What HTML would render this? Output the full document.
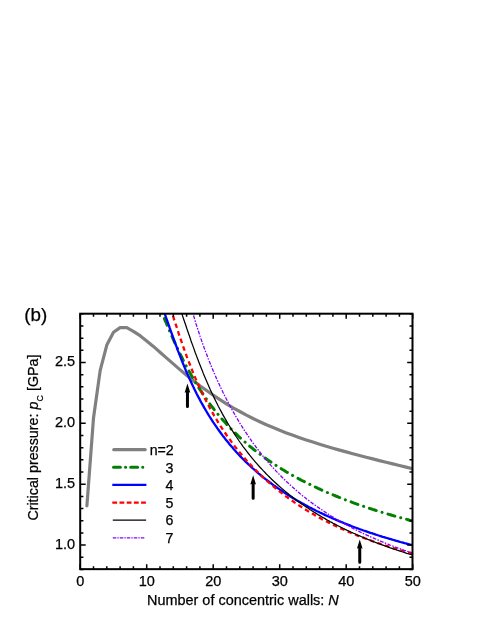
<!DOCTYPE html>
<html><head><meta charset="utf-8"><title>chart</title>
<style>
html,body{margin:0;padding:0;background:#fff;}
body{width:491px;height:635px;overflow:hidden;font-family:"Liberation Sans",sans-serif;}
svg{display:block;will-change:transform;opacity:0.9999;}
text{font-family:"Liberation Sans",sans-serif;fill:#000;stroke:#000;stroke-width:0.25px;}
</style></head><body>
<svg width="491" height="635" viewBox="0 0 491 635">
<rect width="491" height="635" fill="#fff"/>
<defs><clipPath id="c"><rect x="80.2" y="313.7" width="332.5" height="255.2"/></clipPath></defs>
<g clip-path="url(#c)" fill="none" stroke-linejoin="round">
<path d="M86.9,505.9 L93.5,418.0 L100.2,370.4 L106.8,345.1 L113.5,332.3 L120.1,327.6 L126.8,327.6 L133.4,331.3 L140.1,335.7 L146.7,340.9 L153.4,346.4 L160.0,352.2 L166.7,358.1 L173.3,363.9 L179.9,369.6 L186.6,375.2 L193.2,380.5 L199.9,385.7 L206.6,390.5 L213.2,395.2 L219.9,399.6 L226.5,403.8 L233.1,407.8 L239.8,411.5 L246.4,415.1 L253.1,418.5 L259.8,421.7 L266.4,424.7 L273.1,427.5 L279.7,430.3 L286.4,432.9 L293.0,435.3 L299.6,437.7 L306.3,440.0 L312.9,442.1 L319.6,444.2 L326.2,446.3 L332.9,448.2 L339.6,450.1 L346.2,451.9 L352.8,453.7 L359.5,455.5 L366.1,457.2 L372.8,458.9 L379.4,460.6 L386.1,462.2 L392.8,463.9 L399.4,465.5 L406.1,467.1 L412.7,468.8" stroke="#808080" stroke-width="3.2" stroke-linecap="round"/>
<path d="M156.9,300.6 L158.3,303.8 L159.6,307.1 L161.0,310.4 L162.4,313.7 L163.7,317.0 L165.1,320.3 L166.5,323.5 L167.8,326.8 L169.2,330.0 L170.5,333.1 L171.9,336.2 L173.3,339.3 L174.6,342.3 L176.0,345.3 L177.4,348.3 L178.7,351.1 L180.1,354.0 L181.5,356.7 L182.8,359.5 L184.2,362.1 L185.6,364.8 L186.9,367.3 L188.3,369.9 L189.7,372.3 L191.0,374.8 L192.4,377.2 L193.8,379.5 L195.1,381.8 L196.5,384.0 L197.9,386.2 L199.2,388.4 L200.6,390.5 L202.0,392.6 L203.3,394.6 L204.7,396.6 L206.1,398.6 L207.4,400.5 L208.8,402.4 L210.1,404.3 L211.5,406.1 L212.9,407.9 L214.2,409.6 L215.6,411.3 L217.0,413.0 L218.3,414.7 L219.7,416.3 L221.1,417.9 L222.4,419.5 L223.8,421.1 L225.2,422.6 L226.5,424.1 L227.9,425.5 L229.3,427.0 L230.6,428.4 L232.0,429.8 L233.4,431.2 L234.7,432.6 L236.1,433.9 L237.5,435.2 L238.8,436.5 L240.2,437.8 L241.6,439.0 L242.9,440.3 L244.3,441.5 L245.7,442.7 L247.0,443.9 L248.4,445.0 L249.7,446.2 L251.1,447.3 L252.5,448.4 L253.8,449.5 L255.2,450.6 L256.6,451.7 L257.9,452.7 L259.3,453.8 L260.7,454.8 L262.0,455.8 L263.4,456.8 L264.8,457.8 L266.1,458.8 L267.5,459.7 L268.9,460.7 L270.2,461.6 L271.6,462.5 L273.0,463.4 L274.3,464.3 L275.7,465.2 L277.1,466.1 L278.4,467.0 L279.8,467.8 L281.2,468.7 L282.5,469.5 L283.9,470.3 L285.3,471.2 L286.6,472.0 L288.0,472.8 L289.3,473.6 L290.7,474.3 L292.1,475.1 L293.4,475.9 L294.8,476.6 L296.2,477.4 L297.5,478.1 L298.9,478.8 L300.3,479.6 L301.6,480.3 L303.0,481.0 L304.4,481.7 L305.7,482.4 L307.1,483.1 L308.5,483.7 L309.8,484.4 L311.2,485.1 L312.6,485.7 L313.9,486.4 L315.3,487.0 L316.7,487.7 L318.0,488.3 L319.4,488.9 L320.8,489.6 L322.1,490.2 L323.5,490.8 L324.9,491.4 L326.2,492.0 L327.6,492.6 L328.9,493.2 L330.3,493.7 L331.7,494.3 L333.0,494.9 L334.4,495.4 L335.8,496.0 L337.1,496.5 L338.5,497.1 L339.9,497.6 L341.2,498.2 L342.6,498.7 L344.0,499.2 L345.3,499.8 L346.7,500.3 L348.1,500.8 L349.4,501.3 L350.8,501.8 L352.2,502.3 L353.5,502.8 L354.9,503.3 L356.3,503.8 L357.6,504.3 L359.0,504.8 L360.4,505.2 L361.7,505.7 L363.1,506.2 L364.5,506.7 L365.8,507.1 L367.2,507.6 L368.5,508.0 L369.9,508.5 L371.3,508.9 L372.6,509.4 L374.0,509.8 L375.4,510.2 L376.7,510.7 L378.1,511.1 L379.5,511.5 L380.8,512.0 L382.2,512.4 L383.6,512.8 L384.9,513.2 L386.3,513.6 L387.7,514.0 L389.0,514.4 L390.4,514.8 L391.8,515.2 L393.1,515.6 L394.5,516.0 L395.9,516.4 L397.2,516.8 L398.6,517.2 L400.0,517.6 L401.3,517.9 L402.7,518.3 L404.1,518.7 L405.4,519.1 L406.8,519.4 L408.1,519.8 L409.5,520.2 L410.9,520.5 L412.2,520.9 L412.7,521.0" stroke="#008000" stroke-width="3" stroke-dasharray="7.2 6.05 0.1 6.05" stroke-linecap="round"/>
<path d="M160.1,301.3 L161.4,304.8 L162.8,308.4 L164.2,312.2 L165.5,316.0 L166.9,319.9 L168.3,323.8 L169.6,327.7 L171.0,331.6 L172.4,335.4 L173.7,339.2 L175.1,343.0 L176.5,346.7 L177.8,350.3 L179.2,353.9 L180.6,357.4 L181.9,360.9 L183.3,364.3 L184.7,367.6 L186.0,370.8 L187.4,374.0 L188.8,377.1 L190.1,380.1 L191.5,383.0 L192.9,385.9 L194.2,388.8 L195.6,391.5 L196.9,394.2 L198.3,396.9 L199.7,399.4 L201.0,402.0 L202.4,404.4 L203.8,406.9 L205.1,409.2 L206.5,411.5 L207.9,413.8 L209.2,416.0 L210.6,418.2 L212.0,420.3 L213.3,422.4 L214.7,424.4 L216.1,426.4 L217.4,428.4 L218.8,430.3 L220.2,432.2 L221.5,434.0 L222.9,435.9 L224.3,437.6 L225.6,439.4 L227.0,441.1 L228.4,442.8 L229.7,444.4 L231.1,446.0 L232.5,447.6 L233.8,449.2 L235.2,450.7 L236.5,452.2 L237.9,453.7 L239.3,455.2 L240.6,456.6 L242.0,458.0 L243.4,459.4 L244.7,460.8 L246.1,462.1 L247.5,463.4 L248.8,464.7 L250.2,466.0 L251.6,467.3 L252.9,468.5 L254.3,469.7 L255.7,470.9 L257.0,472.1 L258.4,473.3 L259.8,474.4 L261.1,475.6 L262.5,476.7 L263.9,477.8 L265.2,478.9 L266.6,479.9 L268.0,481.0 L269.3,482.0 L270.7,483.0 L272.1,484.1 L273.4,485.1 L274.8,486.0 L276.1,487.0 L277.5,488.0 L278.9,488.9 L280.2,489.8 L281.6,490.8 L283.0,491.7 L284.3,492.6 L285.7,493.5 L287.1,494.3 L288.4,495.2 L289.8,496.1 L291.2,496.9 L292.5,497.7 L293.9,498.6 L295.3,499.4 L296.6,500.2 L298.0,501.0 L299.4,501.8 L300.7,502.5 L302.1,503.3 L303.5,504.0 L304.8,504.8 L306.2,505.5 L307.6,506.3 L308.9,507.0 L310.3,507.7 L311.7,508.4 L313.0,509.1 L314.4,509.8 L315.7,510.5 L317.1,511.2 L318.5,511.8 L319.8,512.5 L321.2,513.1 L322.6,513.8 L323.9,514.4 L325.3,515.1 L326.7,515.7 L328.0,516.3 L329.4,516.9 L330.8,517.5 L332.1,518.1 L333.5,518.7 L334.9,519.3 L336.2,519.9 L337.6,520.5 L339.0,521.1 L340.3,521.6 L341.7,522.2 L343.1,522.7 L344.4,523.3 L345.8,523.8 L347.2,524.4 L348.5,524.9 L349.9,525.4 L351.3,526.0 L352.6,526.5 L354.0,527.0 L355.3,527.5 L356.7,528.0 L358.1,528.5 L359.4,529.0 L360.8,529.5 L362.2,530.0 L363.5,530.5 L364.9,530.9 L366.3,531.4 L367.6,531.9 L369.0,532.3 L370.4,532.8 L371.7,533.2 L373.1,533.7 L374.5,534.1 L375.8,534.6 L377.2,535.0 L378.6,535.5 L379.9,535.9 L381.3,536.3 L382.7,536.8 L384.0,537.2 L385.4,537.6 L386.8,538.0 L388.1,538.4 L389.5,538.8 L390.9,539.2 L392.2,539.6 L393.6,540.0 L394.9,540.4 L396.3,540.8 L397.7,541.2 L399.0,541.6 L400.4,542.0 L401.8,542.3 L403.1,542.7 L404.5,543.1 L405.9,543.4 L407.2,543.8 L408.6,544.2 L410.0,544.5 L411.3,544.9 L412.7,545.2" stroke="#0000ff" stroke-width="2.3"/>
<path d="M167.8,300.8 L169.2,304.6 L170.5,308.6 L171.9,312.7 L173.3,316.9 L174.6,321.1 L176.0,325.2 L177.4,329.4 L178.7,333.5 L180.1,337.6 L181.5,341.6 L182.8,345.5 L184.2,349.4 L185.6,353.1 L186.9,356.9 L188.3,360.5 L189.7,364.0 L191.0,367.5 L192.4,370.9 L193.8,374.2 L195.1,377.4 L196.5,380.6 L197.9,383.7 L199.2,386.7 L200.6,389.7 L202.0,392.5 L203.3,395.4 L204.7,398.1 L206.1,400.8 L207.4,403.4 L208.8,406.0 L210.1,408.5 L211.5,411.0 L212.9,413.4 L214.2,415.8 L215.6,418.1 L217.0,420.3 L218.3,422.6 L219.7,424.7 L221.1,426.9 L222.4,429.0 L223.8,431.0 L225.2,433.0 L226.5,435.0 L227.9,437.0 L229.3,438.9 L230.6,440.7 L232.0,442.6 L233.4,444.4 L234.7,446.2 L236.1,447.9 L237.5,449.6 L238.8,451.3 L240.2,453.0 L241.6,454.6 L242.9,456.2 L244.3,457.8 L245.7,459.4 L247.0,460.9 L248.4,462.4 L249.7,463.9 L251.1,465.3 L252.5,466.8 L253.8,468.2 L255.2,469.6 L256.6,471.0 L257.9,472.3 L259.3,473.7 L260.7,475.0 L262.0,476.3 L263.4,477.6 L264.8,478.8 L266.1,480.1 L267.5,481.3 L268.9,482.5 L270.2,483.7 L271.6,484.9 L273.0,486.0 L274.3,487.2 L275.7,488.3 L277.1,489.4 L278.4,490.5 L279.8,491.6 L281.2,492.7 L282.5,493.7 L283.9,494.8 L285.3,495.8 L286.6,496.8 L288.0,497.8 L289.3,498.8 L290.7,499.8 L292.1,500.7 L293.4,501.7 L294.8,502.6 L296.2,503.5 L297.5,504.5 L298.9,505.4 L300.3,506.3 L301.6,507.1 L303.0,508.0 L304.4,508.9 L305.7,509.7 L307.1,510.6 L308.5,511.4 L309.8,512.2 L311.2,513.0 L312.6,513.8 L313.9,514.6 L315.3,515.4 L316.7,516.2 L318.0,516.9 L319.4,517.7 L320.8,518.4 L322.1,519.2 L323.5,519.9 L324.9,520.6 L326.2,521.3 L327.6,522.0 L328.9,522.7 L330.3,523.4 L331.7,524.1 L333.0,524.7 L334.4,525.4 L335.8,526.0 L337.1,526.7 L338.5,527.3 L339.9,528.0 L341.2,528.6 L342.6,529.2 L344.0,529.8 L345.3,530.4 L346.7,531.0 L348.1,531.6 L349.4,532.2 L350.8,532.8 L352.2,533.3 L353.5,533.9 L354.9,534.5 L356.3,535.0 L357.6,535.6 L359.0,536.1 L360.4,536.6 L361.7,537.2 L363.1,537.7 L364.5,538.2 L365.8,538.7 L367.2,539.2 L368.5,539.7 L369.9,540.2 L371.3,540.7 L372.6,541.2 L374.0,541.7 L375.4,542.1 L376.7,542.6 L378.1,543.1 L379.5,543.5 L380.8,544.0 L382.2,544.4 L383.6,544.9 L384.9,545.3 L386.3,545.8 L387.7,546.2 L389.0,546.6 L390.4,547.0 L391.8,547.5 L393.1,547.9 L394.5,548.3 L395.9,548.7 L397.2,549.1 L398.6,549.5 L400.0,549.9 L401.3,550.3 L402.7,550.6 L404.1,551.0 L405.4,551.4 L406.8,551.8 L408.1,552.1 L409.5,552.5 L410.9,552.9 L412.2,553.2 L412.7,553.4" stroke="#ff0000" stroke-width="2.3" stroke-dasharray="4.6 3.4"/>
<path d="M177.4,300.5 L178.7,304.4 L180.1,308.5 L181.5,312.5 L182.8,316.6 L184.2,320.7 L185.6,324.7 L186.9,328.8 L188.3,332.8 L189.7,336.8 L191.0,340.7 L192.4,344.6 L193.8,348.4 L195.1,352.2 L196.5,355.9 L197.9,359.5 L199.2,363.1 L200.6,366.6 L202.0,370.0 L203.3,373.4 L204.7,376.7 L206.1,379.9 L207.4,383.1 L208.8,386.2 L210.1,389.2 L211.5,392.2 L212.9,395.1 L214.2,397.9 L215.6,400.7 L217.0,403.5 L218.3,406.2 L219.7,408.8 L221.1,411.4 L222.4,413.9 L223.8,416.4 L225.2,418.8 L226.5,421.1 L227.9,423.5 L229.3,425.8 L230.6,428.0 L232.0,430.2 L233.4,432.3 L234.7,434.4 L236.1,436.5 L237.5,438.5 L238.8,440.5 L240.2,442.5 L241.6,444.4 L242.9,446.3 L244.3,448.1 L245.7,449.9 L247.0,451.7 L248.4,453.5 L249.7,455.2 L251.1,456.9 L252.5,458.6 L253.8,460.2 L255.2,461.8 L256.6,463.4 L257.9,464.9 L259.3,466.5 L260.7,468.0 L262.0,469.4 L263.4,470.9 L264.8,472.3 L266.1,473.7 L267.5,475.1 L268.9,476.5 L270.2,477.8 L271.6,479.2 L273.0,480.5 L274.3,481.7 L275.7,483.0 L277.1,484.3 L278.4,485.5 L279.8,486.7 L281.2,487.9 L282.5,489.1 L283.9,490.2 L285.3,491.4 L286.6,492.5 L288.0,493.6 L289.3,494.7 L290.7,495.8 L292.1,496.8 L293.4,497.9 L294.8,498.9 L296.2,499.9 L297.5,500.9 L298.9,501.9 L300.3,502.9 L301.6,503.9 L303.0,504.8 L304.4,505.8 L305.7,506.7 L307.1,507.6 L308.5,508.6 L309.8,509.5 L311.2,510.3 L312.6,511.2 L313.9,512.1 L315.3,512.9 L316.7,513.8 L318.0,514.6 L319.4,515.4 L320.8,516.2 L322.1,517.1 L323.5,517.8 L324.9,518.6 L326.2,519.4 L327.6,520.2 L328.9,520.9 L330.3,521.7 L331.7,522.4 L333.0,523.2 L334.4,523.9 L335.8,524.6 L337.1,525.3 L338.5,526.0 L339.9,526.7 L341.2,527.4 L342.6,528.1 L344.0,528.7 L345.3,529.4 L346.7,530.1 L348.1,530.7 L349.4,531.3 L350.8,532.0 L352.2,532.6 L353.5,533.2 L354.9,533.8 L356.3,534.5 L357.6,535.1 L359.0,535.7 L360.4,536.2 L361.7,536.8 L363.1,537.4 L364.5,538.0 L365.8,538.5 L367.2,539.1 L368.5,539.7 L369.9,540.2 L371.3,540.8 L372.6,541.3 L374.0,541.8 L375.4,542.4 L376.7,542.9 L378.1,543.4 L379.5,543.9 L380.8,544.4 L382.2,544.9 L383.6,545.4 L384.9,545.9 L386.3,546.4 L387.7,546.9 L389.0,547.4 L390.4,547.9 L391.8,548.3 L393.1,548.8 L394.5,549.3 L395.9,549.7 L397.2,550.2 L398.6,550.6 L400.0,551.1 L401.3,551.5 L402.7,552.0 L404.1,552.4 L405.4,552.8 L406.8,553.3 L408.1,553.7 L409.5,554.1 L410.9,554.5 L412.2,554.9 L412.7,555.1" stroke="#000" stroke-width="1.25"/>
<path d="M189.2,300.1 L190.6,305.1 L191.9,310.0 L193.3,314.8 L194.7,319.3 L196.0,323.8 L197.4,328.1 L198.8,332.3 L200.1,336.4 L201.5,340.4 L202.9,344.3 L204.2,348.0 L205.6,351.7 L207.0,355.3 L208.3,358.9 L209.7,362.3 L211.1,365.7 L212.4,369.0 L213.8,372.2 L215.2,375.4 L216.5,378.5 L217.9,381.5 L219.3,384.5 L220.6,387.4 L222.0,390.2 L223.3,393.0 L224.7,395.8 L226.1,398.5 L227.4,401.1 L228.8,403.7 L230.2,406.3 L231.5,408.8 L232.9,411.3 L234.3,413.7 L235.6,416.0 L237.0,418.4 L238.4,420.7 L239.7,422.9 L241.1,425.1 L242.5,427.3 L243.8,429.5 L245.2,431.6 L246.6,433.6 L247.9,435.7 L249.3,437.7 L250.7,439.6 L252.0,441.6 L253.4,443.5 L254.8,445.3 L256.1,447.2 L257.5,449.0 L258.9,450.8 L260.2,452.5 L261.6,454.3 L262.9,456.0 L264.3,457.6 L265.7,459.3 L267.0,460.9 L268.4,462.5 L269.8,464.1 L271.1,465.6 L272.5,467.1 L273.9,468.7 L275.2,470.1 L276.6,471.6 L278.0,473.0 L279.3,474.4 L280.7,475.8 L282.1,477.2 L283.4,478.6 L284.8,479.9 L286.2,481.2 L287.5,482.5 L288.9,483.8 L290.3,485.1 L291.6,486.3 L293.0,487.5 L294.4,488.7 L295.7,489.9 L297.1,491.1 L298.5,492.3 L299.8,493.4 L301.2,494.5 L302.5,495.7 L303.9,496.8 L305.3,497.8 L306.6,498.9 L308.0,500.0 L309.4,501.0 L310.7,502.0 L312.1,503.1 L313.5,504.1 L314.8,505.0 L316.2,506.0 L317.6,507.0 L318.9,507.9 L320.3,508.9 L321.7,509.8 L323.0,510.7 L324.4,511.6 L325.8,512.5 L327.1,513.4 L328.5,514.3 L329.9,515.1 L331.2,516.0 L332.6,516.8 L334.0,517.7 L335.3,518.5 L336.7,519.3 L338.1,520.1 L339.4,520.9 L340.8,521.7 L342.1,522.5 L343.5,523.2 L344.9,524.0 L346.2,524.7 L347.6,525.5 L349.0,526.2 L350.3,526.9 L351.7,527.7 L353.1,528.4 L354.4,529.1 L355.8,529.8 L357.2,530.5 L358.5,531.1 L359.9,531.8 L361.3,532.5 L362.6,533.1 L364.0,533.8 L365.4,534.4 L366.7,535.1 L368.1,535.7 L369.5,536.3 L370.8,536.9 L372.2,537.5 L373.6,538.1 L374.9,538.7 L376.3,539.3 L377.7,539.9 L379.0,540.5 L380.4,541.1 L381.7,541.7 L383.1,542.2 L384.5,542.8 L385.8,543.3 L387.2,543.9 L388.6,544.4 L389.9,545.0 L391.3,545.5 L392.7,546.0 L394.0,546.5 L395.4,547.1 L396.8,547.6 L398.1,548.1 L399.5,548.6 L400.9,549.1 L402.2,549.6 L403.6,550.1 L405.0,550.5 L406.3,551.0 L407.7,551.5 L409.1,552.0 L410.4,552.4 L411.8,552.9 L412.7,553.2" stroke="#8000ff" stroke-width="1.3" stroke-dasharray="3.8 1.3 1.5 1.4"/>
</g>
<path d="M187.45,383.5 L190.29999999999998,392.8 L188.95,392.2 L188.95,406.5 A1.5,1.5 0 0 1 185.95,406.5 L185.95,392.2 L184.6,392.8 Z" fill="#000"/><path d="M253.15,475.3 L256.0,484.6 L254.65,484.0 L254.65,498.3 A1.5,1.5 0 0 1 251.65,498.3 L251.65,484.0 L250.3,484.6 Z" fill="#000"/><path d="M359.75,539.4 L362.6,548.6999999999999 L361.25,548.0999999999999 L361.25,562.3 A1.5,1.5 0 0 1 358.25,562.3 L358.25,548.0999999999999 L356.9,548.6999999999999 Z" fill="#000"/>
<g fill="none">
<path d="M113.8,449.7H145.20000000000002" stroke="#808080" stroke-width="3.2" stroke-linecap="round"/>
<path d="M113.5,467.3H143.5" stroke="#008000" stroke-width="3" stroke-dasharray="6.9 5.1 0.1 5.1" stroke-linecap="round"/>
<path d="M112.3,484.9H146.4" stroke="#0000ff" stroke-width="2.3"/>
<path d="M112.3,502.6H146.4" stroke="#ff0000" stroke-width="2.3" stroke-dasharray="4.8 2.4"/>
<path d="M112.8,520.1H146.1" stroke="#000" stroke-width="1.3"/>
<path d="M112.8,537.9H144.4" stroke="#8000ff" stroke-width="1.4" stroke-dasharray="3.5 1.1 1.3 1.1"/>
</g>
<path d="M80.20,569.15v-5.0 M80.20,313.70v5.0 M93.50,569.15v-3.0 M93.50,313.70v3.0 M106.80,569.15v-3.0 M106.80,313.70v3.0 M120.10,569.15v-3.0 M120.10,313.70v3.0 M133.40,569.15v-3.0 M133.40,313.70v3.0 M146.70,569.15v-5.0 M146.70,313.70v5.0 M160.00,569.15v-3.0 M160.00,313.70v3.0 M173.30,569.15v-3.0 M173.30,313.70v3.0 M186.60,569.15v-3.0 M186.60,313.70v3.0 M199.90,569.15v-3.0 M199.90,313.70v3.0 M213.20,569.15v-5.0 M213.20,313.70v5.0 M226.50,569.15v-3.0 M226.50,313.70v3.0 M239.80,569.15v-3.0 M239.80,313.70v3.0 M253.10,569.15v-3.0 M253.10,313.70v3.0 M266.40,569.15v-3.0 M266.40,313.70v3.0 M279.70,569.15v-5.0 M279.70,313.70v5.0 M293.00,569.15v-3.0 M293.00,313.70v3.0 M306.30,569.15v-3.0 M306.30,313.70v3.0 M319.60,569.15v-3.0 M319.60,313.70v3.0 M332.90,569.15v-3.0 M332.90,313.70v3.0 M346.20,569.15v-5.0 M346.20,313.70v5.0 M359.50,569.15v-3.0 M359.50,313.70v3.0 M372.80,569.15v-3.0 M372.80,313.70v3.0 M386.10,569.15v-3.0 M386.10,313.70v3.0 M399.40,569.15v-3.0 M399.40,313.70v3.0 M412.70,569.15v-5.0 M412.70,313.70v5.0 M80.20,569.40h3.2 M412.70,569.40h-3.2 M80.20,557.23h3.2 M412.70,557.23h-3.2 M80.20,545.06h5.5 M412.70,545.06h-5.5 M80.20,532.89h3.2 M412.70,532.89h-3.2 M80.20,520.72h3.2 M412.70,520.72h-3.2 M80.20,508.55h3.2 M412.70,508.55h-3.2 M80.20,496.38h3.2 M412.70,496.38h-3.2 M80.20,484.21h5.5 M412.70,484.21h-5.5 M80.20,472.04h3.2 M412.70,472.04h-3.2 M80.20,459.87h3.2 M412.70,459.87h-3.2 M80.20,447.70h3.2 M412.70,447.70h-3.2 M80.20,435.53h3.2 M412.70,435.53h-3.2 M80.20,423.36h5.5 M412.70,423.36h-5.5 M80.20,411.19h3.2 M412.70,411.19h-3.2 M80.20,399.02h3.2 M412.70,399.02h-3.2 M80.20,386.85h3.2 M412.70,386.85h-3.2 M80.20,374.68h3.2 M412.70,374.68h-3.2 M80.20,362.51h5.5 M412.70,362.51h-5.5 M80.20,350.34h3.2 M412.70,350.34h-3.2 M80.20,338.17h3.2 M412.70,338.17h-3.2 M80.20,326.00h3.2 M412.70,326.00h-3.2 M80.20,313.83h3.2 M412.70,313.83h-3.2" stroke="#000" stroke-width="1.5" fill="none"/>
<rect x="80.2" y="313.7" width="332.3" height="255.45" fill="none" stroke="#000" stroke-width="2"/>
<g font-size="14.5"><text x="80.2" y="585.9" text-anchor="middle">0</text><text x="146.7" y="585.9" text-anchor="middle">10</text><text x="213.2" y="585.9" text-anchor="middle">20</text><text x="279.7" y="585.9" text-anchor="middle">30</text><text x="346.2" y="585.9" text-anchor="middle">40</text><text x="412.7" y="585.9" text-anchor="middle">50</text><text x="75.1" y="548.7" text-anchor="end">1.0</text><text x="75.1" y="487.8" text-anchor="end">1.5</text><text x="75.1" y="427.0" text-anchor="end">2.0</text><text x="75.1" y="366.1" text-anchor="end">2.5</text></g>
<g font-size="14.2"><text x="149.7" y="454.9">n=2</text><text x="165.6" y="472.5">3</text><text x="165.6" y="490.09999999999997">4</text><text x="165.6" y="507.8">5</text><text x="165.6" y="525.3000000000001">6</text><text x="165.6" y="543.1">7</text></g>
<text x="24.2" y="321.2" font-size="18.8">(b)</text>
<text x="147.0" y="604.7" font-size="14.45">Number of concentric walls: <tspan font-style="italic">N</tspan></text>
<text transform="translate(38.2,520.6) rotate(-90)" font-size="14.28">Critical pressure: <tspan font-style="italic">p</tspan><tspan font-size="8.8" dy="5.2" dx="0.3">C</tspan><tspan dy="-5.2"> [GPa]</tspan></text>
</svg>
</body></html>
